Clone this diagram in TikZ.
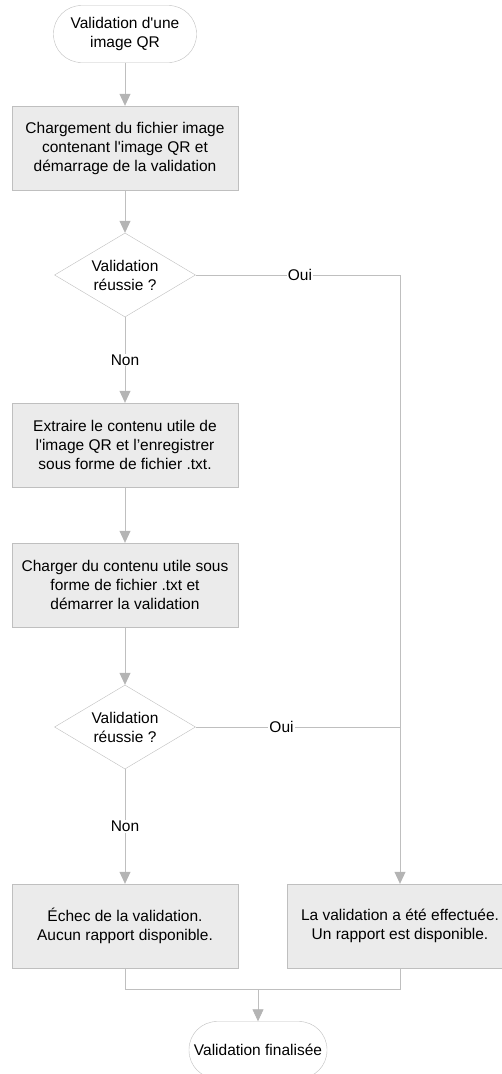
\documentclass[tikz,border=0pt]{standalone}
\usepackage{fontspec}
\setmainfont{Liberation Sans}
\usepackage{tikz}
\usetikzlibrary{arrows.meta,shapes.geometric}

\definecolor{linegray}{HTML}{BFBFBF}
\definecolor{tipgray}{HTML}{B4B4B4}
\definecolor{boxfill}{HTML}{EBEBEB}

\tikzset{
  every node/.style={font=\fontsize{15.5}{19}\selectfont, align=center},
  terminal/.style={draw=linegray, fill=white, rounded corners=28pt,
    minimum height=57pt, inner sep=1pt},
  action/.style={draw=linegray, fill=boxfill, minimum width=226pt,
    minimum height=84pt, inner sep=1pt},
  decision/.style={draw=linegray, fill=white, diamond, inner sep=0pt,
    shape aspect=1.68, minimum width=141pt, minimum height=84pt},
  link/.style={draw=linegray, line width=0.8pt},
  flow/.style={link, -{Triangle[width=11pt,length=12pt,fill=tipgray,color=tipgray]}},
  answer/.style={fill=white, inner sep=1pt}
}

\begin{document}
\begin{tikzpicture}[x=1pt,y=-1pt]
  \useasboundingbox (0,0) rectangle (502,1074);

  \node[terminal, minimum width=143pt] (start) at (125,34) {Validation d\textquotesingle une\\image QR};
  \node[action] (load) at (125,148) {Chargement du fichier image\\contenant l\textquotesingle image QR et\\démarrage de la validation};
  \node[decision] (check1) at (125,275) {Validation\\réussie ?};
  \node[action] (extract) at (125,445) {Extraire le contenu utile de\\l\textquotesingle image QR et l’enregistrer\\sous forme de fichier .txt.};
  \node[action] (loadtxt) at (125,585) {Charger du contenu utile sous\\forme de fichier .txt et\\démarrer la validation};
  \node[decision] (check2) at (125,727) {Validation\\réussie ?};
  \node[action] (fail) at (125,926) {Échec de la validation.\\Aucun rapport disponible.};
  \node[action] (done) at (400,926) {La validation a été effectuée.\\Un rapport est disponible.};
  \node[terminal, minimum width=138pt] (finish) at (258,1050) {Validation finalisée};

  \coordinate (corner) at (400,275);
  \coordinate (merge) at (258,989);

  \draw[flow] (start) -- (load);
  \draw[flow] (load) -- (check1);
  \draw[flow] (check1) -- node[answer, pos=0.5] {Non} (extract);
  \draw[flow] (extract) -- (loadtxt);
  \draw[flow] (loadtxt) -- (check2);
  \draw[flow] (check2) -- node[answer, pos=0.5] {Non} (fail);

  \draw[link] (check1.east) -- node[answer, pos=0.51] {Oui} (corner);
  \draw[flow] (corner) -- (done);
  \draw[link] (check2.east) -- node[answer, pos=0.42] {Oui} (check2.east -| corner);

  \draw[link] (fail.south) |- (merge) -| (done.south);
  \draw[flow] (merge) -- (finish);
\end{tikzpicture}
\end{document}
